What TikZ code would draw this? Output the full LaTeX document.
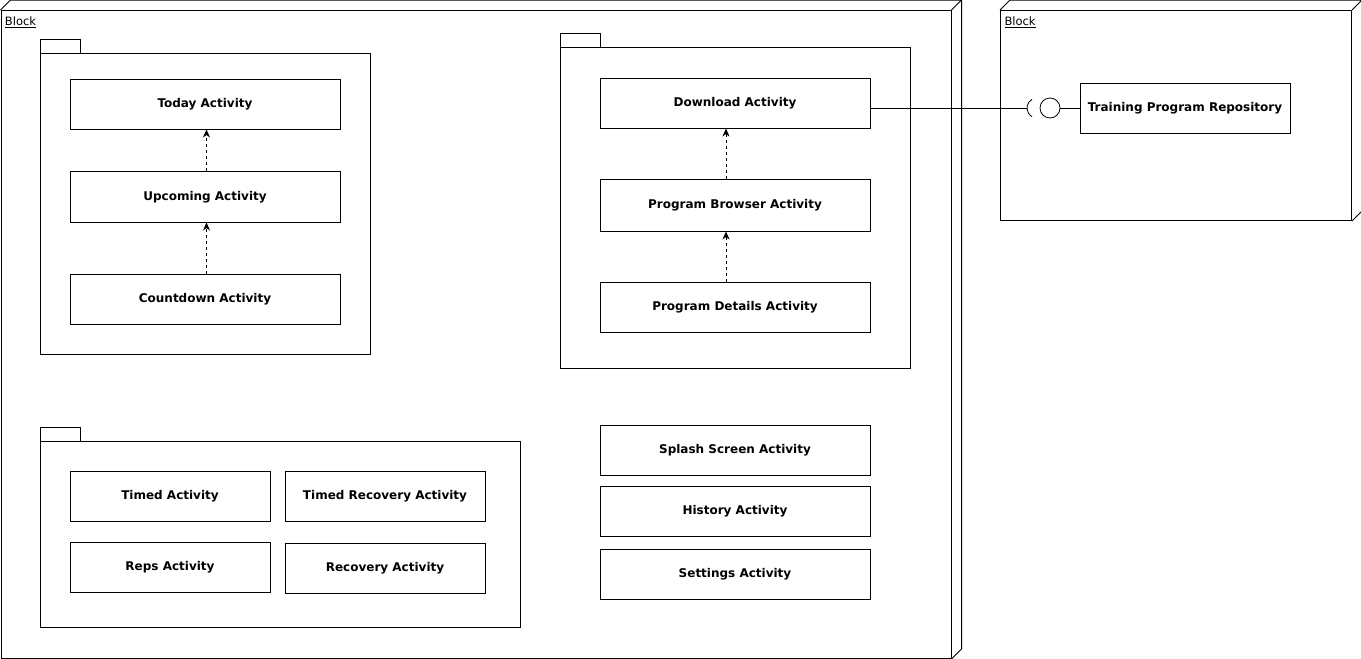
\documentclass[tikz,border=0pt]{standalone}
\usepackage{fontspec}
\setmainfont{DejaVu Sans}
\usetikzlibrary{arrows.meta}
\tikzset{
  every picture/.style={line width=1pt},
  lbl/.style={font=\fontsize{12}{14}\selectfont\bfseries, text height=9pt, text depth=1.6pt},
  act/.style={draw, rectangle, line width=1pt, inner sep=0pt, lbl},
  actw/.style={act, minimum width=270pt, minimum height=50pt},
  acts/.style={act, minimum width=200pt, minimum height=50pt},
  pkgbody/.style={draw, rectangle, line width=1pt, inner sep=0pt},
  blocklbl/.style={font=\fontsize{11.5}{13}\selectfont, inner sep=0pt, anchor=base west},
  dep/.style={dashed, dash pattern=on 3pt off 3pt, -{Stealth[length=8pt,width=7pt,inset=2.5pt]}},
}
\begin{document}
\begin{tikzpicture}[x=1pt,y=-1pt]
\useasboundingbox (0,0) rectangle (1361,659);
% left block
\node[pkgbody, minimum width=950pt, minimum height=648pt, anchor=north west] (blockL) at (0.5,10) {};
\draw (blockL.north west) -- ++(10,-10) -- ([shift={(10pt,10pt)}]blockL.north east) -- (blockL.north east);
\draw ([shift={(10pt,10pt)}]blockL.north east) -- ([shift={(10pt,10pt)}]blockL.south east) -- (blockL.south east);
\node[blocklbl] (blockLlbl) at (4.5,25.5) {\underline{Block}};
% right block
\node[pkgbody, minimum width=351pt, minimum height=210pt, anchor=north west] (blockR) at (1000,10) {};
\draw (blockR.north west) -- ++(10,-10) -- ([shift={(10pt,10pt)}]blockR.north east) -- (blockR.north east);
\draw ([shift={(10pt,10pt)}]blockR.north east) -- ([shift={(10pt,10pt)}]blockR.south east) -- (blockR.south east);
\node[blocklbl] (blockRlbl) at (1004,25.5) {\underline{Block}};
% package 1
\draw (40,39) rectangle (80,53);
\node[pkgbody, minimum width=330pt, minimum height=301pt, anchor=north west] (pkg1) at (40,53) {};
% package 2
\draw (560,33) rectangle (600,47);
\node[pkgbody, minimum width=350pt, minimum height=321pt, anchor=north west] (pkg2) at (560,47) {};
% package 3
\draw (40,427) rectangle (80,441);
\node[pkgbody, minimum width=480pt, minimum height=186pt, anchor=north west] (pkg3) at (40,441) {};
% activities package 1
\node[actw] (today) at (205,104) {Today Activity};
\node[actw, minimum height=51pt] (upcoming) at (205,196.5) {Upcoming Activity};
\node[actw] (countdown) at (205,299) {Countdown Activity};
\draw[dep] ([xshift=1.5pt]countdown.north) -- ([xshift=1.5pt]upcoming.south);
\draw[dep] ([xshift=1.5pt]upcoming.north) -- ([xshift=1.5pt]today.south);
% activities package 2
\node[actw] (download) at (735,103) {Download Activity};
\node[actw, minimum height=52pt] (browser) at (735,205) {Program Browser Activity};
\node[actw] (details) at (735,307) {Program Details Activity};
\draw[dep] ([xshift=-9pt]details.north) -- ([xshift=-9pt]browser.south);
\draw[dep] ([xshift=-9pt]browser.north) -- ([xshift=-9pt]download.south);
% package 3
\node[acts] (timed) at (170,496) {Timed Activity};
\node[acts] (timedrec) at (385,496) {Timed Recovery Activity};
\node[acts] (reps) at (170,567) {Reps Activity};
\node[acts] (recovery) at (385,568) {Recovery Activity};
% free activities
\node[actw] (splash) at (735,450) {Splash Screen Activity};
\node[actw] (history) at (735,511) {History Activity};
\node[actw] (settings) at (735,574) {Settings Activity};
% repository
\node[act, minimum width=210pt, minimum height=50pt] (repo) at (1185,108) {Training Program Repository};
% interface
\coordinate (sock) at (1027,108);
\coordinate (sockc) at (1037,108);
\node[draw, circle, minimum size=20pt, inner sep=0pt, line width=0.8pt] (lolli) at (1050,108) {};
\draw (download.east |- sock) -- (sock);
\draw[line width=0.8pt] ([shift={(120:10pt)}]sockc) arc[start angle=120, end angle=240, radius=10pt];
\draw (lolli.east) -- (repo.west);
\end{tikzpicture}
\end{document}
